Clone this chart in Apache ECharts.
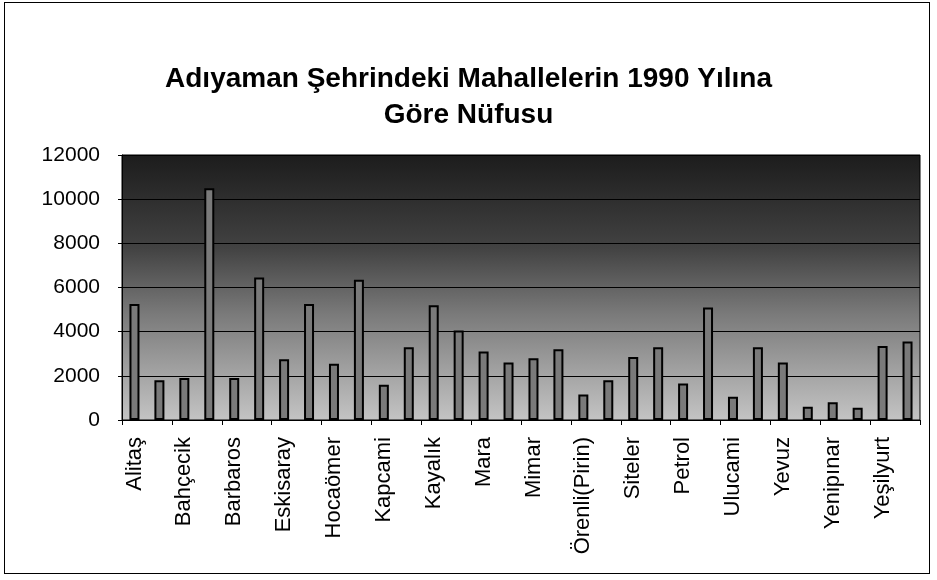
<!DOCTYPE html>
<html>
<head>
<meta charset="utf-8">
<title>Adıyaman Şehrindeki Mahallelerin 1990 Yılına Göre Nüfusu</title>
<script src="https://cdn.jsdelivr.net/npm/echarts@6/dist/echarts.min.js"></script>
<style>
  html, body { margin: 0; padding: 0; background: #fff; }
  #chart { position: absolute; left: 0; top: 0; width: 937px; height: 580px; }
  /* taranmış sayfadaki dış çerçeve */
  #frame {
    position: absolute; left: 4px; top: 2px; width: 924px; height: 570px;
    border: 1px solid #000; pointer-events: none;
  }
</style>
</head>
<body>
<div id="chart"></div>
<div id="frame"></div>
<script>
// etiketli mahalleler (eksende her ikinci sütunun altında yazılı olanlar)
var labeledNames = [
  'Alitaş', 'Bahçecik', 'Barbaros', 'Eskisaray', 'Hocaömer', 'Kapcami',
  'Kayalık', 'Mara', 'Mimar', 'Örenli(Pirin)', 'Siteler', 'Petrol',
  'Ulucami', 'Yevuz', 'Yenipınar', 'Yeşilyurt'
];

// 32 sütun; adı yazılmayan sütunlar boş etiketli
var categories = [];
labeledNames.forEach(function (name) {
  categories.push(name);
  categories.push('');
});

// nüfus değerleri (resimden okunan yaklaşık değerler)
var population = [
  5250, 1800, 1900, 10500, 1900, 6450, 2750, 5250,
  2550, 6350, 1600, 3300, 5200, 4050, 3100, 2600,
  2800, 3200, 1150, 1800, 2850, 3300, 1650, 5100,
  1050, 3300, 2600, 600, 800, 550, 3350, 3550
];

var yTicks = [0, 2000, 4000, 6000, 8000, 10000, 12000];

var chart = echarts.init(document.getElementById('chart'), null, { renderer: 'canvas' });

var option = {
  animation: false,
  backgroundColor: 'transparent',
  title: {
    text: 'Adıyaman Şehrindeki Mahallelerin 1990 Yılına\nGöre Nüfusu',
    left: 'center',
    top: 56,
    textStyle: {
      fontFamily: 'Liberation Sans, Arial, sans-serif',
      fontWeight: 'bold',
      fontSize: 28,
      lineHeight: 36,
      color: '#000'
    }
  },
  grid: {
    left: 122,
    right: 17,
    top: 155,
    bottom: 160,
    show: true,
    borderColor: '#000',
    borderWidth: 1,
    backgroundColor: {
      type: 'linear', x: 0, y: 0, x2: 0, y2: 1,
      colorStops: [
        { offset: 0, color: '#1c1c1c' },
        { offset: 0.35, color: '#424242' },
        { offset: 0.6, color: '#7a7a7a' },
        { offset: 1, color: '#c4c4c4' }
      ]
    }
  },
  xAxis: {
    type: 'category',
    data: categories,
    axisLine: { lineStyle: { color: '#000', width: 1 } },
    axisTick: { show: true, interval: 1, length: 5, lineStyle: { color: '#000' } },
    axisLabel: {
      interval: 1,
      rotate: 90,
      margin: 17,
      color: '#000',
      fontFamily: 'Liberation Sans, Arial, sans-serif',
      fontSize: 22
    }
  },
  yAxis: {
    type: 'value',
    min: yTicks[0],
    max: yTicks[yTicks.length - 1],
    interval: 2000,
    axisLine: { show: true, lineStyle: { color: '#000', width: 1 } },
    axisTick: { show: true, length: 4, lineStyle: { color: '#000' } },
    splitLine: { show: true, lineStyle: { color: '#000', width: 1 } },
    axisLabel: {
      margin: 22,
      color: '#000',
      fontFamily: 'Liberation Sans, Arial, sans-serif',
      fontSize: 21,
      formatter: function (v) { return String(v); }
    }
  },
  series: [{
    type: 'bar',
    data: population,
    barWidth: 10,
    itemStyle: {
      color: '#7a7a7a',
      borderColor: '#000',
      borderWidth: 2
    }
  }]
};

chart.setOption(option);
</script>
</body>
</html>
